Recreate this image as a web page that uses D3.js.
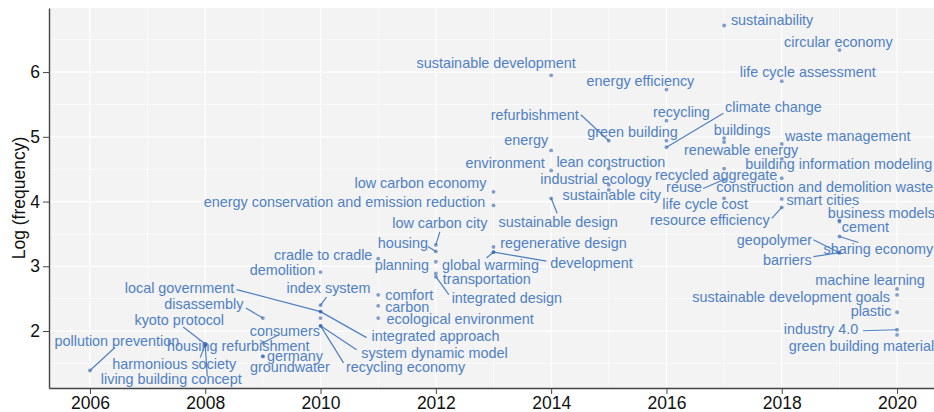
<!DOCTYPE html>
<html>
<head>
<meta charset="utf-8">
<script src="https://cdn.jsdelivr.net/npm/d3@7"></script>
<style>
  body { margin: 0; background: #fff; }
  svg { display: block; font-family: "Liberation Sans", Arial, sans-serif; }
</style>
</head>
<body>
<svg id="chart"></svg>
<script>
// keywords, year of first appearance, log of frequency
var keywords = [
  "sustainability", "circular economy", "sustainable development", "life cycle assessment",
  "energy efficiency", "recycling", "buildings", "refurbishment", "green building",
  "renewable energy", "waste management", "climate change", "energy",
  "building information modeling", "lean construction", "recycled aggregate", "environment",
  "construction and demolition waste", "reuse", "industrial ecology", "sustainable city",
  "low carbon economy", "life cycle cost", "sustainable design", "smart cities",
  "energy conservation and emission reduction", "resource efficiency", "business models",
  "cement", "sharing economy", "low carbon city", "regenerative design", "housing",
  "development", "global warming", "geopolymer", "barriers", "cradle to cradle", "planning",
  "demolition", "transportation", "integrated design", "machine learning", "comfort",
  "sustainable development goals", "index system", "carbon", "local government",
  "integrated approach", "plastic", "disassembly", "ecological environment", "",
  "system dynamic model", "recycling economy", "industry 4.0", "green building materials",
  "consumers", "kyoto protocol", "housing refurbishment", "harmonious society",
  "living building concept", "germany", "groundwater", "pollution prevention"
];
var years = [
  2017, 2019, 2014, 2018, 2016, 2016, 2017, 2015, 2016, 2017, 2018, 2016, 2014,
  2018, 2015, 2017, 2014, 2018, 2017, 2015, 2015, 2013, 2017, 2014, 2018,
  2013, 2018, 2019, 2019, 2019, 2012, 2013, 2012, 2013, 2013, 2019, 2019, 2011, 2012,
  2010, 2012, 2012, 2020, 2011, 2020, 2010, 2011, 2010, 2010, 2020, 2009, 2011, 2010,
  2010, 2010, 2020, 2020, 2009, 2008, 2008, 2008, 2008, 2009, 2009, 2006
];
var logFreq = [
  6.72, 6.34, 5.95, 5.86, 5.73, 5.25, 4.98, 4.94, 4.94, 4.92, 4.89, 4.84, 4.79,
  4.66, 4.51, 4.51, 4.48, 4.36, 4.34, 4.26, 4.18, 4.15, 4.05, 4.05, 4.04,
  3.94, 3.91, 3.71, 3.69, 3.46, 3.33, 3.30, 3.23, 3.22, 3.22, 3.21, 3.21, 3.12, 3.07,
  2.91, 2.89, 2.84, 2.65, 2.56, 2.56, 2.40, 2.39, 2.30, 2.30, 2.29, 2.20, 2.20, 2.20,
  2.08, 2.08, 2.02, 1.94, 1.82, 1.80, 1.80, 1.79, 1.78, 1.61, 1.61, 1.39
];
var xTicks = [2006, 2008, 2010, 2012, 2014, 2016, 2018, 2020];
var yTicks = [2, 3, 4, 5, 6];

// label placement (pixel offset of label centre, optional segment end offset)
var labelPos = {
  "sustainability": [48, -6], "circular economy": [-1, -8],
  "sustainable development": [-55, -12], "life cycle assessment": [26, -9],
  "energy efficiency": [-26, -9], "recycling": [15, -9], "buildings": [18, -8],
  "refurbishment": [-74, -26, -28, -26], "green building": [-34, -9],
  "renewable energy": [17, 8], "waste management": [66, -8],
  "climate change": [107, -40, 57, -34], "energy": [-25, -10],
  "building information modeling": [57, 5], "lean construction": [2, -7],
  "recycled aggregate": [-8, 6], "environment": [-46, -8],
  "construction and demolition waste": [43, 9], "reuse": [-40, 7, -21, 9],
  "industrial ecology": [-13, -6], "sustainable city": [3, 5],
  "low carbon economy": [-73, -9], "life cycle cost": [-19, 6],
  "sustainable design": [7, 24, 6, 15], "smart cities": [41, 1],
  "energy conservation and emission reduction": [-149, -3],
  "resource efficiency": [-72, 13, -10, 11], "business models": [42, -7],
  "cement": [26, 5], "sharing economy": [39, 12, 19, 6],
  "low carbon city": [4, -22, 4, -13], "regenerative design": [70, -4],
  "housing": [-33, -8, -8, -5], "development": [98, 11, 53, 9],
  "global warming": [-3, 13, -7, 6], "geopolymer": [-65, -13, -26, -13],
  "barriers": [-52, 7, -26, 4], "cradle to cradle": [-55, -4], "planning": [-34, 3],
  "demolition": [-38, -2], "transportation": [51, 6],
  "integrated design": [71, 21, 13, 18], "machine learning": [-27, -9],
  "comfort": [31, 0], "sustainable development goals": [-106, 2],
  "index system": [8, -17, 6, -8], "carbon": [29, 1],
  "local government": [-141, -24, -84, -22], "integrated approach": [115, 24, 46, 26],
  "plastic": [-26, -1], "disassembly": [-59, -14, -17, -10],
  "ecological environment": [82, 1], "system dynamic model": [114, 27, 36, 24],
  "recycling economy": [85, 41, 23, 37], "industry 4.0": [-76, -1, -34, 1],
  "green building materials": [-32, 11], "consumers": [22, -12, 16, -8],
  "kyoto protocol": [-26, -24, -22, -17], "housing refurbishment": [33, 2],
  "harmonious society": [-31, 19, -5, 13], "living building concept": [-34, 34, 2, 31],
  "germany": [32, 0], "groundwater": [27, 11], "pollution prevention": [27, -30, 25, -23]
};

var W = 934, H = 412;
var margin = { left: 49, top: 8, bottom: 24 };
var blue = "#4f80c4";

var svg = d3.select("#chart").attr("width", W).attr("height", H);

var x = d3.scaleLinear().domain([2005.29, 2020.71]).range([margin.left, 938]);
var y = d3.scaleLinear().domain([1.12, 6.99]).range([H - margin.bottom, margin.top]);

var data = keywords.map(function (k, i) {
  return { key: k, year: years[i], val: logFreq[i] };
});

// panel
svg.append("rect")
  .attr("x", x.range()[0]).attr("y", y.range()[1])
  .attr("width", x.range()[1] - x.range()[0])
  .attr("height", y.range()[0] - y.range()[1])
  .attr("fill", "#f3f3f3");

var grid = svg.append("g");
var minorX = d3.range(2007, 2020, 2), minorY = d3.range(1.5, 7, 1);
grid.selectAll("line.mx").data(minorX).enter().append("line")
  .attr("x1", x).attr("x2", x).attr("y1", y.range()[0]).attr("y2", y.range()[1])
  .attr("stroke", "#fff").attr("stroke-width", 0.6);
grid.selectAll("line.my").data(minorY).enter().append("line")
  .attr("y1", y).attr("y2", y).attr("x1", x.range()[0]).attr("x2", x.range()[1])
  .attr("stroke", "#fff").attr("stroke-width", 0.6);
grid.selectAll("line.gx").data(xTicks).enter().append("line")
  .attr("x1", x).attr("x2", x).attr("y1", y.range()[0]).attr("y2", y.range()[1])
  .attr("stroke", "#fff").attr("stroke-width", 1.2);
grid.selectAll("line.gy").data(yTicks).enter().append("line")
  .attr("y1", y).attr("y2", y).attr("x1", x.range()[0]).attr("x2", x.range()[1])
  .attr("stroke", "#fff").attr("stroke-width", 1.2);

// segments
var segs = data.filter(function (d) { return d.key && labelPos[d.key].length > 2; });
svg.append("g").selectAll("line").data(segs).enter().append("line")
  .attr("x1", function (d) { return x(d.year); })
  .attr("y1", function (d) { return y(d.val); })
  .attr("x2", function (d) { return x(d.year) + labelPos[d.key][2]; })
  .attr("y2", function (d) { return y(d.val) + labelPos[d.key][3]; })
  .attr("stroke", blue).attr("stroke-width", 1.2);

// points
svg.append("g").selectAll("circle").data(data).enter().append("circle")
  .attr("cx", function (d) { return x(d.year); })
  .attr("cy", function (d) { return y(d.val); })
  .attr("r", 1.9)
  .attr("fill", "#2f62ad").attr("fill-opacity", 0.6);

// labels
svg.append("g").selectAll("text").data(data.filter(function (d) { return d.key; }))
  .enter().append("text")
  .attr("x", function (d) { return x(d.year) + labelPos[d.key][0]; })
  .attr("y", function (d) { return y(d.val) + labelPos[d.key][1]; })
  .attr("dy", "0.35em")
  .attr("text-anchor", "middle")
  .attr("font-size", "14.4px")
  .attr("fill", blue)
  .text(function (d) { return d.key; });

// axes
var xAxis = svg.append("g")
  .attr("transform", "translate(0," + y.range()[0] + ")")
  .call(d3.axisBottom(x).tickValues(xTicks).tickFormat(d3.format("d")).tickSizeOuter(0));
var yAxis = svg.append("g")
  .attr("transform", "translate(" + x.range()[0] + ",0)")
  .call(d3.axisLeft(y).tickValues(yTicks).tickFormat(d3.format("d")).tickSizeOuter(0));

[xAxis, yAxis].forEach(function (a) {
  a.select(".domain").attr("stroke", "#444").attr("stroke-width", 1.4);
  a.selectAll(".tick line").attr("stroke", "#444");
  a.selectAll(".tick text").attr("font-size", "17.5px").attr("fill", "#111")
    .attr("font-family", "Liberation Sans, Arial, sans-serif");
});

svg.append("text")
  .attr("transform", "translate(19," + ((y.range()[0] + y.range()[1]) / 2) + ") rotate(-90)")
  .attr("text-anchor", "middle")
  .attr("dy", "0.35em")
  .attr("font-size", "17.5px")
  .attr("fill", "#111")
  .text("Log (frequency)");
</script>
</body>
</html>
